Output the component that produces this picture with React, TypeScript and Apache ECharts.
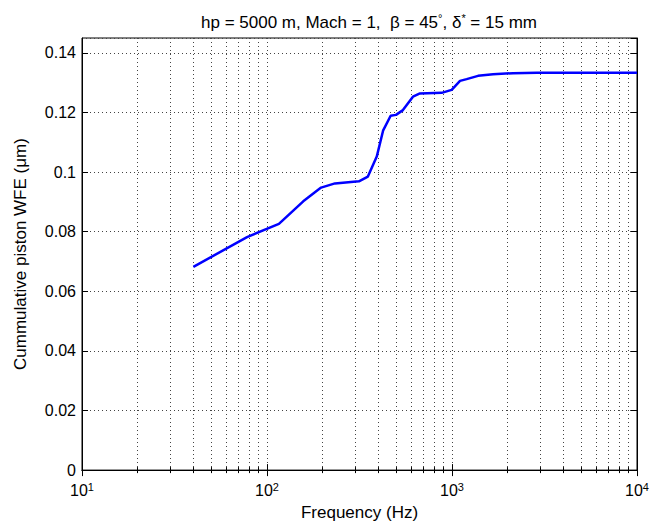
import React, { useEffect, useRef } from "react";
import * as echarts from "echarts";

const frequencies = [40, 78, 116, 157, 196, 233, 314, 351, 392, 424, 466, 498, 543, 615, 671, 879, 996, 1105, 1200, 1383, 1667, 2138, 2877, 10000];
const wfeValues = [0.0682, 0.0782, 0.0826, 0.0902, 0.0948, 0.0962, 0.0969, 0.0985, 0.1052, 0.1139, 0.1189, 0.1192, 0.1208, 0.1253, 0.1264, 0.1266, 0.1276, 0.1306, 0.1312, 0.1323, 0.1328, 0.1332, 0.1333, 0.1333];
const xTickExponents = [1, 2, 3, 4];
const yTicks = [0, 0.02, 0.04, 0.06, 0.08, 0.1, 0.12, 0.14];

const FONT = "Liberation Sans";

export default function App() {
  const ref = useRef<HTMLDivElement>(null);
  useEffect(() => {
    if (!ref.current) return;
    const chart = echarts.init(ref.current, null, { renderer: "svg" });
    const gridStyle = { color: "#444", type: [1, 3] as any, width: 1 };
    const xLabel = {
      fontFamily: FONT,
      color: "#000",
      margin: 11,
      formatter: (v: number) => {
        const e = Math.round(Math.log10(v));
        return xTickExponents.includes(e) ? `{b|10}{s|${e}}` : "";
      },
      rich: {
        b: { fontSize: 16, fontFamily: FONT, color: "#000", lineHeight: 19 },
        s: { fontSize: 11, fontFamily: FONT, color: "#000", verticalAlign: "top", lineHeight: 11, padding: [0, 0, 7, 0] },
      },
    };
    const yFormatter = (v: number) => {
      const r = Math.round(v * 100) / 100;
      const ok = yTicks.some((t) => Math.abs(t - v) < 1e-9);
      return ok ? String(r) : "";
    };
    chart.setOption({
      animation: false,
      title: {
        text: "hp = 5000 m, Mach = 1,  β = 45{s|°}, δ{s|*} = 15 mm",
        left: 364,
        textAlign: "center",
        top: 7,
        textStyle: {
          fontFamily: FONT,
          fontSize: 17,
          fontWeight: "normal",
          color: "#000",
          rich: {
            s: { fontSize: 11, fontFamily: FONT, color: "#000", padding: [0, 0, 9, 0] },
          },
        },
      },
      grid: {
        left: 82,
        right: 22,
        top: 38,
        bottom: 52,
        show: true,
        borderColor: "#000",
        borderWidth: 1,
        backgroundColor: "#fff",
      },
      xAxis: [
        {
          type: "log",
          logBase: 10,
          min: 10,
          max: 10000,
          position: "bottom",
          name: "Frequency (Hz)",
          nameLocation: "middle",
          nameGap: 29,
          nameTextStyle: { fontFamily: FONT, fontSize: 17, color: "#000" },
          axisLine: { lineStyle: { color: "#000", width: 1 } },
          axisTick: { inside: true, length: 6, lineStyle: { color: "#000" } },
          minorTick: { show: true, splitNumber: 9, length: 3, lineStyle: { color: "#000" } },
          splitLine: { show: true, lineStyle: gridStyle },
          minorSplitLine: { show: true, lineStyle: gridStyle },
          axisLabel: xLabel,
        },
        {
          type: "log",
          logBase: 10,
          min: 10,
          max: 10000,
          position: "top",
          axisLine: { lineStyle: { color: "#000", width: 1 } },
          axisTick: { inside: true, length: 6, lineStyle: { color: "#000" } },
          minorTick: { show: true, splitNumber: 9, length: 3, lineStyle: { color: "#000" } },
          splitLine: { show: false },
          axisLabel: { show: false },
        },
      ],
      yAxis: [
        {
          type: "value",
          min: 0,
          max: 0.145,
          interval: 0.02,
          position: "left",
          name: "Cummulative piston WFE (μm)",
          nameLocation: "middle",
          nameGap: 53,
          nameTextStyle: { fontFamily: FONT, fontSize: 17, color: "#000" },
          axisLine: { show: true, lineStyle: { color: "#000", width: 1 } },
          axisTick: { show: true, inside: true, length: 6, lineStyle: { color: "#000" } },
          splitLine: { show: true, lineStyle: gridStyle },
          axisLabel: { fontFamily: FONT, fontSize: 16, color: "#000", margin: 6, formatter: yFormatter, showMaxLabel: false },
        },
        {
          type: "value",
          min: 0,
          max: 0.145,
          interval: 0.02,
          position: "right",
          axisLine: { show: true, lineStyle: { color: "#000", width: 1 } },
          axisTick: { show: true, inside: true, length: 6, lineStyle: { color: "#000" } },
          splitLine: { show: false },
          axisLabel: { show: false },
        },
      ],
      series: [
        {
          type: "line",
          xAxisIndex: 0,
          yAxisIndex: 0,
          data: frequencies.map((f, i) => [f, wfeValues[i]]),
          showSymbol: false,
          lineStyle: { color: "#0000ff", width: 2.5 },
          itemStyle: { color: "#0000ff" },
        },
      ],
    });
    return () => chart.dispose();
  }, []);
  return <div ref={ref} style={{ width: 659, height: 526, position: "absolute", left: 0, top: 0, background: "#fff" }} />;
}
